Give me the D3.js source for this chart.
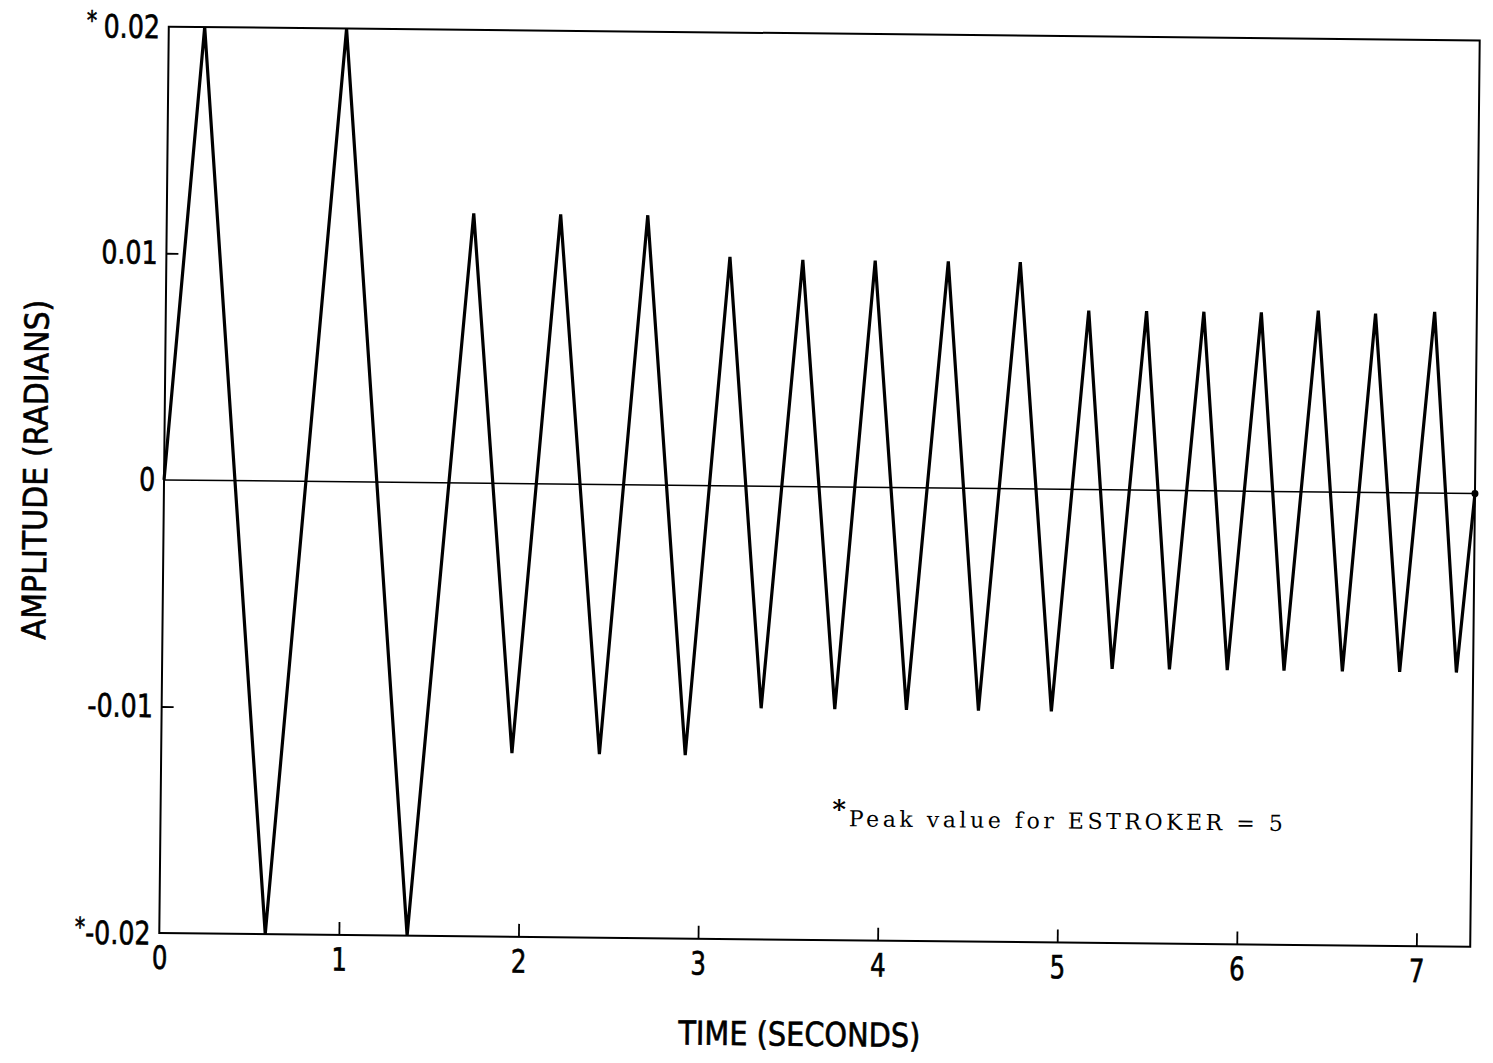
<!DOCTYPE html>
<html>
<head>
<meta charset="utf-8">
<script src="https://cdn.jsdelivr.net/npm/d3@7"></script>
<style>
  body { margin: 0; background: #fff; }
  svg { display: block; }
</style>
</head>
<body>
<div id="chart"></div>
<script>
// Triangle-wave response: amplitude (radians) against time (seconds)
const time = [0, 0.20, 0.59, 0.99, 1.38, 1.709, 1.953, 2.193, 2.440, 2.678, 2.918,
  3.138, 3.338, 3.544, 3.748, 3.947, 4.147, 4.354, 4.548, 4.755, 4.954,
  5.139, 5.290, 5.461, 5.609, 5.780, 5.931, 6.100, 6.247, 6.417, 6.572,
  6.736, 6.891, 7.065, 7.207, 7.30];
const amplitude = [0, 0.02, -0.02, 0.02, -0.02, 0.0119, -0.0119, 0.0119, -0.0119, 0.0119, -0.0119,
  0.0101, -0.0098, 0.0100, -0.0098, 0.0100, -0.0098, 0.0100, -0.0098, 0.0100, -0.0098,
  0.0079, -0.0079, 0.0079, -0.0079, 0.0079, -0.0079, 0.0079, -0.0079, 0.0080, -0.0079,
  0.0079, -0.0079, 0.0080, -0.0079, 0];

const xTickValues = [0, 1, 2, 3, 4, 5, 6, 7];
const xTickLabels = ["0", "1", "2", "3", "4", "5", "6", "7"];
const yTickValues = [-0.02, -0.01, 0, 0.01, 0.02];
const yTickLabels = ["-0.02", "-0.01", "0", "0.01", "0.02"];
const starredTicks = [-0.02, 0.02];

const xTitle = "TIME (SECONDS)";
const yTitle = "AMPLITUDE (RADIANS)";
const noteText = "Peak value for ESTROKER = 5";

const W = 1493, H = 1063;
const margin = { top: 33.5, right: 18, bottom: 123, left: 164 },
      width = W - margin.left - margin.right,
      height = H - margin.top - margin.bottom;

const lettering = "'DejaVu Sans Condensed', 'DejaVu Sans', sans-serif";

const svg = d3.select("#chart")
  .append("svg")
  .attr("width", W)
  .attr("height", H);

// the scanned sheet sits slightly tilted
const page = svg.append("g")
  .attr("transform", `rotate(0.6, ${margin.left + width / 2}, ${margin.top + height / 2})`);

const g = page.append("g")
  .attr("transform", `translate(${margin.left},${margin.top})`);

const x = d3.scaleLinear().domain([0, 7.30]).range([0, width]);
const y = d3.scaleLinear().domain([-0.02, 0.02]).range([height, 0]);

// frame
g.append("rect")
  .attr("x", 0).attr("y", 0)
  .attr("width", width).attr("height", height)
  .attr("fill", "none")
  .attr("stroke", "#000")
  .attr("stroke-width", 2);

// x axis, ticks pointing inward
const xAxis = g.append("g")
  .attr("transform", `translate(0,${height})`)
  .call(d3.axisBottom(x)
    .tickValues(xTickValues)
    .tickFormat((d, i) => xTickLabels[i])
    .tickSizeInner(-13)
    .tickSizeOuter(0)
    .tickPadding(13));
xAxis.select(".domain").remove();
xAxis.selectAll(".tick line").attr("stroke", "#000").attr("stroke-width", 1.8)
  .filter(d => d === 0).remove();
xAxis.selectAll(".tick text")
  .attr("fill", "#000")
  .attr("stroke", "#000")
  .attr("stroke-width", 0.6)
  .attr("transform", "scale(0.85,1)")
  .style("font-family", lettering)
  .style("font-size", "32px");

// y axis
const yAxis = g.append("g")
  .call(d3.axisLeft(y)
    .tickValues(yTickValues)
    .tickFormat((d, i) => yTickLabels[i])
    .tickSizeInner(-12)
    .tickSizeOuter(0)
    .tickPadding(10));
yAxis.select(".domain").remove();
yAxis.selectAll(".tick line").attr("stroke", "#000").attr("stroke-width", 1.8)
  .filter(d => Math.abs(d) !== 0.01).remove();
yAxis.selectAll(".tick text")
  .attr("fill", "#000")
  .attr("stroke", "#000")
  .attr("stroke-width", 0.6)
  .attr("transform", "scale(0.88,1)")
  .style("font-family", lettering)
  .style("font-size", "32px");

// asterisks on the starred peak labels
yAxis.selectAll(".tick")
  .filter(d => starredTicks.includes(d))
  .select("text")
  .each(function (d) {
    const t = d3.select(this);
    const label = t.text();
    t.attr("dy", null).text(null);
    t.append("tspan")
      .attr("font-size", "26px")
      .attr("dy", 3)
      .text(d > 0 ? "* " : "*");
    t.append("tspan")
      .attr("dy", 8)
      .text(label);
  });

// zero line
g.append("line")
  .attr("x1", x(0)).attr("x2", x(7.30))
  .attr("y1", y(0)).attr("y2", y(0))
  .attr("stroke", "#000")
  .attr("stroke-width", 1.5);

// response curve
const line = d3.line()
  .x((d, i) => x(time[i]))
  .y(d => y(d));

g.append("path")
  .datum(amplitude)
  .attr("fill", "none")
  .attr("stroke", "#000")
  .attr("stroke-width", 3.2)
  .attr("d", line);

// end dot on the right edge
g.append("circle")
  .attr("cx", x(time[time.length - 1]))
  .attr("cy", y(amplitude[amplitude.length - 1]))
  .attr("r", 3.5)
  .attr("fill", "#000");

// axis titles
g.append("text")
  .attr("x", x(3.57))
  .attr("y", height + 106)
  .attr("text-anchor", "middle")
  .attr("textLength", 242)
  .attr("lengthAdjust", "spacingAndGlyphs")
  .attr("stroke", "#000")
  .attr("stroke-width", 0.6)
  .style("font-family", lettering)
  .style("font-size", "33px")
  .text(xTitle);

g.append("text")
  .attr("transform", `translate(${-117},${y(0) - 9}) rotate(-90)`)
  .attr("text-anchor", "middle")
  .attr("textLength", 340)
  .attr("lengthAdjust", "spacingAndGlyphs")
  .attr("stroke", "#000")
  .attr("stroke-width", 0.6)
  .style("font-family", lettering)
  .style("font-size", "33px")
  .text(yTitle);

// footnote
const note = g.append("text")
  .attr("x", x(3.74))
  .attr("y", y(-0.01497))
  .style("font-family", "'DejaVu Serif', 'Liberation Serif', serif")
  .style("font-size", "22px");
note.append("tspan")
  .attr("font-size", "26px")
  .attr("font-weight", "bold")
  .attr("dy", -8)
  .text("*");
note.append("tspan")
  .attr("dx", 3)
  .attr("dy", 8)
  .attr("textLength", 434)
  .attr("lengthAdjust", "spacing")
  .text(noteText);
</script>
</body>
</html>
